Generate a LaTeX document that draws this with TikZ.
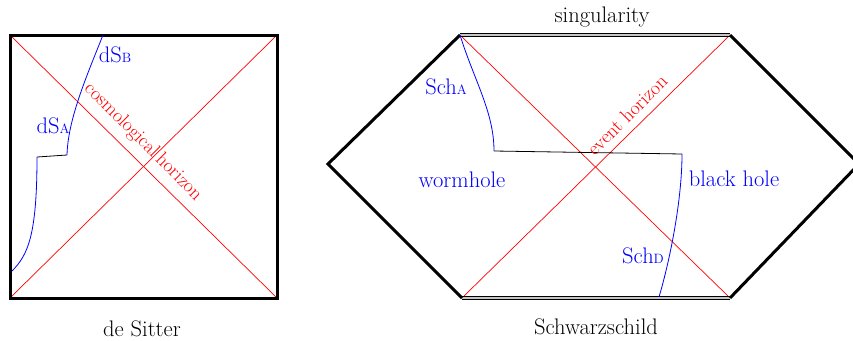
\documentclass[tikz,border=0pt]{standalone}
\usetikzlibrary{positioning}
\newcommand{\lowtag}[1]{{\fontsize{13.5}{14}\selectfont #1}}
\begin{document}
\begin{tikzpicture}[x=1pt, y=1pt, every node/.style={font=\fontsize{22.5}{26}\selectfont}]
\tikzset{frame/.style={line width=3pt, line join=miter}}
\tikzset{horizon/.style={red, line width=0.7pt}}
\tikzset{slice/.style={blue, line width=0.8pt}}
\tikzset{glue/.style={black, line width=0.8pt}}
\tikzset{sing/.style={line width=0.9pt, double=gray!45, double distance=1.8pt}}
\tikzset{lbl/.style={blue}}
\tikzset{hlbl/.style={red, inner sep=1pt, font=\fontsize{19.5}{22}\selectfont}}
\useasboundingbox (0,0) rectangle (853,-340);
% de Sitter
\coordinate (dsTL) at (10,-35);
\coordinate (dsTR) at (277,-35);
\coordinate (dsBR) at (277,-298);
\coordinate (dsBL) at (10,-298);
\draw[horizon] (dsTL) -- (dsBR);
\draw[horizon] (dsBL) -- (dsTR);
\draw[frame] (dsTL) rectangle (dsBR);
\coordinate (dsBtop) at (103,-35);
\coordinate (dsBbot) at (67,-155);
\coordinate (dsAtop) at (37,-157);
\coordinate (dsAbot) at (12,-271);
\draw[slice] (dsBtop) .. controls (85,-80) and (68,-120) .. (dsBbot);
\draw[glue] (dsBbot) -- (dsAtop);
\draw[slice] (dsAtop) .. controls (37,-235) and (28,-255) .. (dsAbot);
\node[lbl] (dsB) at (115,-55) {dS\lowtag{B}};
\node[lbl] (dsA) at (53,-126) {dS\lowtag{A}};
\node[hlbl, rotate=-45] (cosmo) at (143,-142) {cosmological\,horizon};
\node (desitter) at (142,-329) {de Sitter};
% Schwarzschild
\coordinate (shTL) at (460,-35);
\coordinate (shTR) at (730,-35);
\coordinate (shR) at (859,-164);
\coordinate (shBR) at (730,-298);
\coordinate (shBL) at (462,-298);
\coordinate (shL) at (328,-164);
\draw[horizon] (shTL) -- (shBR);
\draw[horizon] (shBL) -- (shTR);
\draw[sing] (shTL) -- (shTR);
\draw[sing] (shBL) -- (shBR);
\draw[frame] (shTL) -- (shL) -- (shBL);
\draw[frame] (shTR) -- (shR) -- (shBR);
\coordinate (schAbot) at (494,-151);
\coordinate (schDtop) at (682,-154);
\coordinate (schDbot) at (659,-297);
\draw[slice] (shTL) .. controls (474,-80) and (494,-112) .. (schAbot);
\draw[glue] (schAbot) -- (schDtop);
\draw[slice] (schDtop) .. controls (682,-200) and (670,-260) .. (schDbot);
\node[lbl] (schA) at (446,-87) {Sch\lowtag{A}};
\node[lbl] (worm) at (462,-180) {wormhole};
\node[lbl] (bh) at (734,-179) {black hole};
\node[lbl] (schD) at (643,-256) {Sch\lowtag{D}};
\node[hlbl, rotate=45] (event) at (627,-115) {event horizon};
\node (sing) at (602,-17) {singularity};
\node (schw) at (596,-327) {Schwarzschild};
\end{tikzpicture}
\end{document}
